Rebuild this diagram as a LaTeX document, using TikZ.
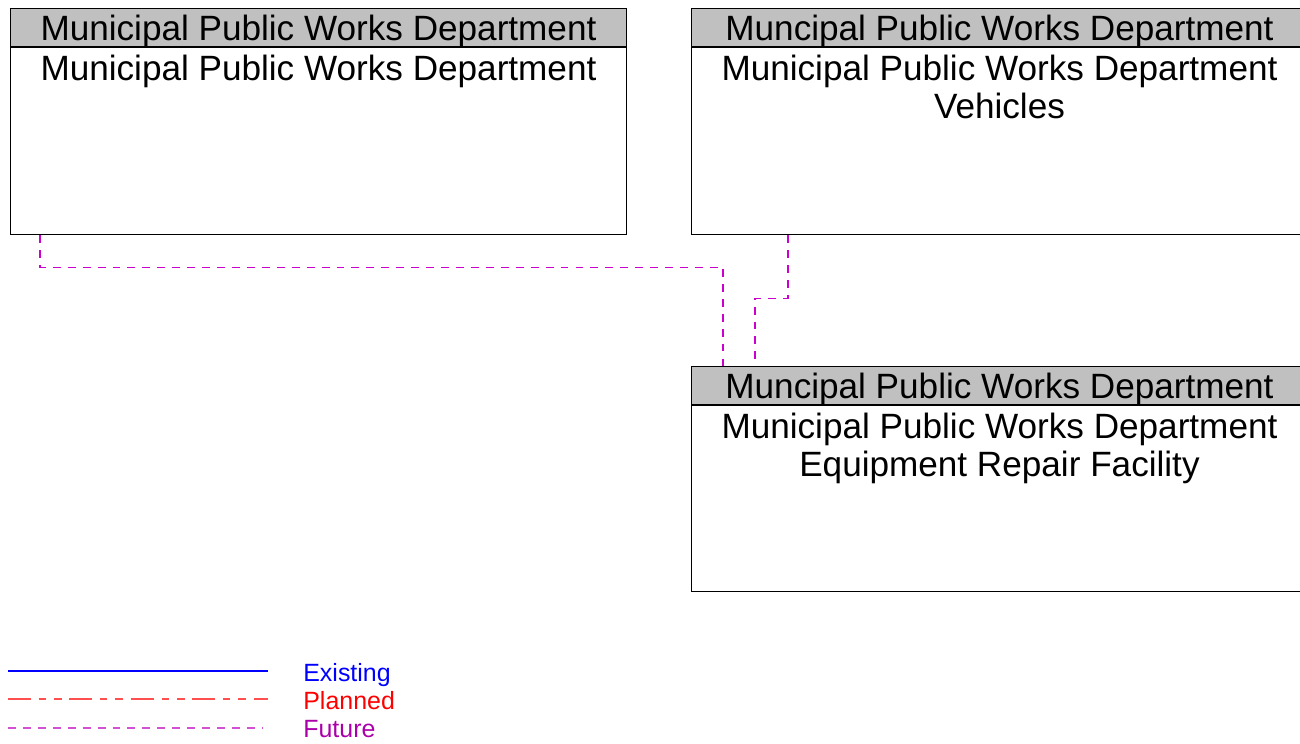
\documentclass[tikz,border=0pt]{standalone}
\usepackage{fontspec}
\setmainfont{Liberation Sans}
\usetikzlibrary{positioning}
\definecolor{headgray}{RGB}{192,192,192}
\definecolor{futuremagenta}{RGB}{204,0,204}
\definecolor{futurelight}{RGB}{210,80,210}
\definecolor{futuretext}{RGB}{170,0,170}
\definecolor{plannedred}{RGB}{255,80,80}
\definecolor{existingblue}{RGB}{0,0,255}

\begin{document}
\begin{tikzpicture}[
    x=0.02cm, y=-0.02cm,
    header/.style={rectangle, draw=black, fill=headgray, line width=0.6pt, inner sep=0pt,
                   minimum width=12.32cm, minimum height=0.76cm, text height=14.3pt, text depth=0pt,
                   font=\fontsize{20}{21.6}\selectfont},
    box/.style={rectangle, draw=black, line width=0.6pt, inner sep=0pt, minimum width=12.32cm},
    boxtext/.style={inner sep=0pt, align=center, font=\fontsize{20}{21.6}\selectfont},
    legendtext/.style={inner sep=0pt, anchor=base west, font=\fontsize{14.2}{17}\selectfont},
    future/.style={color=futuremagenta, line width=0.6pt, dash pattern=on 4.5pt off 4pt},
    planned/.style={color=plannedred, line width=1.1pt,
                    dash pattern=on 13pt off 4.5pt on 4pt off 4.5pt on 4.5pt off 4.5pt},
    existing/.style={color=existingblue, line width=1pt}
]
    \useasboundingbox (0,0) rectangle (1300,743);

    % boxes
    \node[header, anchor=north west] (pwdhead) at (10,8) {Municipal Public Works Department};
    \node[box, below=0pt of pwdhead, minimum height=3.74cm] (pwd) {};
    \node[boxtext, below=0.16cm of pwdhead] (pwdname) {Municipal Public Works Department};

    \node[header, anchor=north west] (vehhead) at (691,8) {Muncipal Public Works Department};
    \node[box, below=0pt of vehhead, minimum height=3.74cm] (veh) {};
    \node[boxtext, below=0.16cm of vehhead] (vehname) {Municipal Public Works Department\\Vehicles};

    \node[header, anchor=north west] (rephead) at (691,366) {Muncipal Public Works Department};
    \node[box, below=0pt of rephead, minimum height=3.72cm] (rep) {};
    \node[boxtext, below=0.16cm of rephead] (repname) {Municipal Public Works Department\\Equipment Repair Facility};

    % flows
    \draw[future] ([xshift=0.6cm]pwd.south west) -- ++(0,-0.64cm) -| ([xshift=0.64cm]rephead.north west);
    \draw[future] ([xshift=1.94cm]veh.south west) -- ++(0,-1.26cm) -| ([xshift=1.28cm]rephead.north west);

    % legend
    \coordinate (existingstart) at (8,671);
    \coordinate (plannedstart) at (8,699);
    \coordinate (futurestart) at (8,728);
    \draw[existing] (existingstart) -- ++(5.2cm,0);
    \draw[planned] (plannedstart) -- ++(5.2cm,0);
    \draw[future, color=futurelight, line width=1.1pt] (futurestart) -- ++(5.1cm,0);
    \node[legendtext, text=existingblue] (existinglabel) at (303,681) {Existing};
    \node[legendtext, text=red] (plannedlabel) at (303,709) {Planned};
    \node[legendtext, text=futuretext] (futurelabel) at (303,737) {Future};
\end{tikzpicture}
\end{document}
